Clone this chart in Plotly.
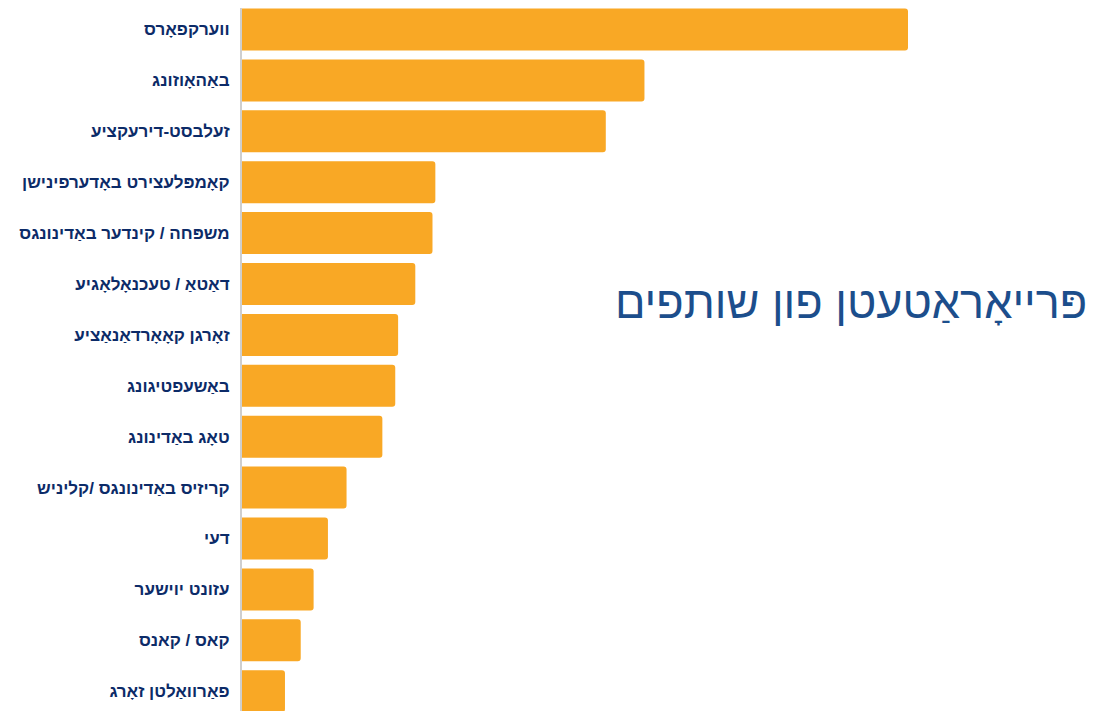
import plotly.graph_objects as go

categories = [
    "ווערקפאָרס",
    "באַהאָוזונג",
    "זעלבסט-דירעקציע",
    "קאָמפּלעצירט באָדערפינישן",
    "משפּחה / קינדער באַדינונגס",
    "דאַטאַ / טעכנאָלאָגיע",
    "זאָרגן קאָאָרדאַנאַציע",
    "באַשעפטיגונג",
    "טאָג באַדינונג",
    "קריזיס באַדינונגס /קליניש",
    "דעי",
    "עזונט יוישער",
    "קאס / קאנס",
    "פאַרוואַלטן זאָרג",
]
values = [46.5, 28.1, 25.4, 13.5, 13.3, 12.1, 10.9, 10.7, 9.8, 7.3, 6.0, 5.0, 4.1, 3.0]
title_text = "פּרייאָראַטעטן פון שותפים"

W, H = 1097, 711
off = 7.5  # page offset of the plot div
ml, mr, mt, mb = 234, 0, 0, 0
px_per_unit = 666 / 46.5
xmax = (W - ml - mr) / px_per_unit
pitch = 50.9
bargap = 0.175
plot_h = H - mt - mb
ytop = -(1 - bargap) / 2 - (8 - off) / pitch
ybot = ytop + plot_h / pitch

fig = go.Figure(go.Bar(
    x=values,
    y=categories,
    orientation="h",
    marker=dict(color="#F9A825", cornerradius=3, line=dict(width=0)),
    hoverinfo="skip",
))

fig.update_layout(
    width=W, height=H,
    margin=dict(l=ml, r=mr, t=mt, b=mb),
    paper_bgcolor="white",
    plot_bgcolor="white",
    bargap=bargap,
    showlegend=False,
    xaxis=dict(range=[0, xmax], visible=False, showgrid=False, zeroline=False),
    yaxis=dict(
        type="category",
        range=[ybot, ytop],
        showline=True, linecolor="#cfcfcf", linewidth=2,
        ticks="", showgrid=False, zeroline=False,
        ticklabelstandoff=7,
        tickfont=dict(family="Liberation Sans, Arial, sans-serif", size=17, color="#0C2B68", weight="bold"),
    ),
    annotations=[dict(
        text=title_text,
        xref="paper", yref="paper",
        x=1, y=1 - (302 - off) / H,
        xanchor="right", yanchor="middle",
        xshift=-16,
        showarrow=False,
        font=dict(family="Liberation Sans, Arial, sans-serif", size=45, color="#1C4E8C"),
    )],
)

fig.write_html("out.html")
